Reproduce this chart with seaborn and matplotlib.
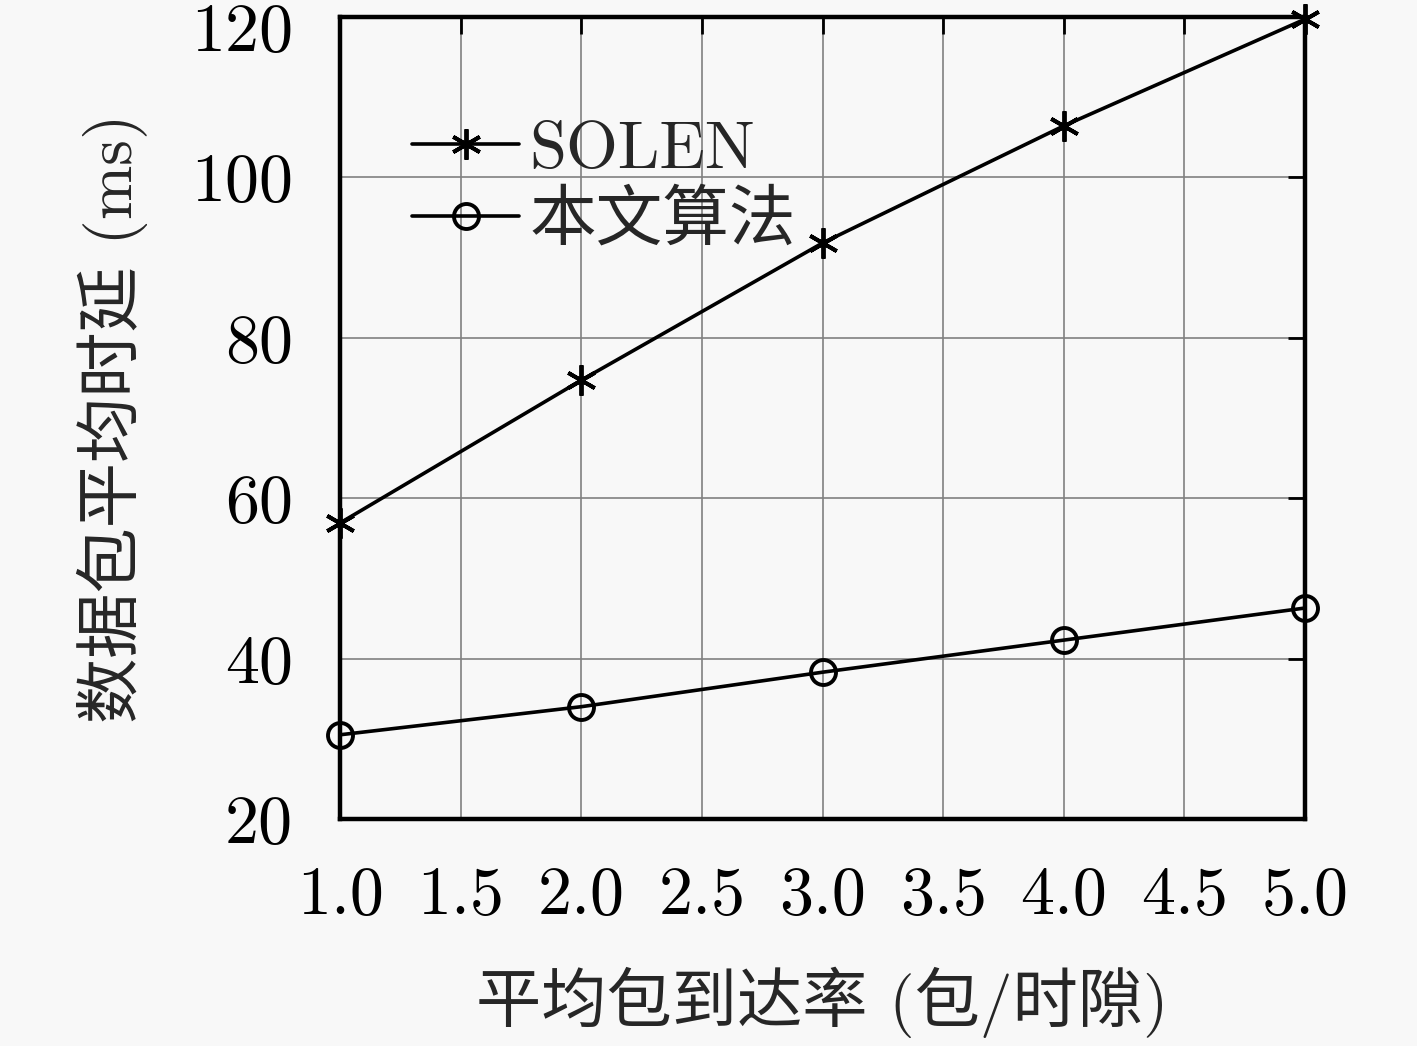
import matplotlib
matplotlib.use("Agg")
import matplotlib.pyplot as plt
import matplotlib.transforms as mtransforms
import seaborn as sns
import pandas as pd

x_rate = [1.0, 2.0, 3.0, 4.0, 5.0]
solen = [56.9, 74.7, 91.8, 106.4, 119.7]
ours = [30.5, 34.0, 38.3, 42.3, 46.3]
series_names = ["SOLEN", "本文算法"]
x_ticks = [1.0, 1.5, 2.0, 2.5, 3.0, 3.5, 4.0, 4.5, 5.0]
y_ticks = [20, 40, 60, 80, 100, 120]
x_label = "平均包到达率 (包/时隙)"
y_label = "数据包平均时延 (ms)"

sns.set_theme(style="white")
plt.rcParams['font.family'] = ['cmr10', 'Noto Sans CJK SC', 'DejaVu Serif']
plt.rcParams['axes.formatter.use_mathtext'] = True

bg = '#f8f8f8'
fig = plt.figure(figsize=(14.17, 10.46), dpi=100, facecolor=bg)
ax = fig.add_axes([0.240, 0.217, 0.681, 0.767])
ax.set_facecolor(bg)

markers = [(6, 2, 0), "o"]
for name, vals, mk in zip(series_names, [solen, ours], markers):
    df = pd.DataFrame({"x": x_rate, "y": vals})
    sns.lineplot(data=df, x="x", y="y", color="black", marker=mk,
                 linewidth=2.6, markersize=18 if mk == "o" else 22,
                 markeredgewidth=2.8, markerfacecolor="none",
                 markeredgecolor="black", ax=ax, label=name, clip_on=False)

ax.set_xlim(1.0, 5.0)
ax.set_ylim(20, 120)
ax.set_xticks(x_ticks)
ax.set_xticklabels([f"{v:.1f}" for v in x_ticks])
ax.set_yticks(y_ticks)
ax.set_yticklabels([str(v) for v in y_ticks])
ax.grid(True, color='#808080', linewidth=1.2)
ax.tick_params(axis='both', direction='in', length=12, width=2,
               labelsize=49, top=True, right=True, colors='black', pad=34)
for sp in ax.spines.values():
    sp.set_visible(True)
    sp.set_color('black')
    sp.set_linewidth(3.2)

# nudge the top y tick label down slightly so it stays on the canvas
top_lbl = ax.get_yticklabels()[-1]
top_lbl.set_transform(top_lbl.get_transform() +
                      mtransforms.ScaledTranslation(0, -10 / 100, fig.dpi_scale_trans))

ax.set_xlabel(x_label, fontsize=47, labelpad=28)
ax.set_ylabel(y_label, fontsize=47, labelpad=31)

leg = ax.legend(loc='upper left', bbox_to_anchor=(0.075, 0.87), frameon=False,
                fontsize=48, handlelength=1.6, handletextpad=0.15,
                labelspacing=0.15, borderaxespad=0, borderpad=0)

fig.savefig("out.png", dpi=100, facecolor=bg)
